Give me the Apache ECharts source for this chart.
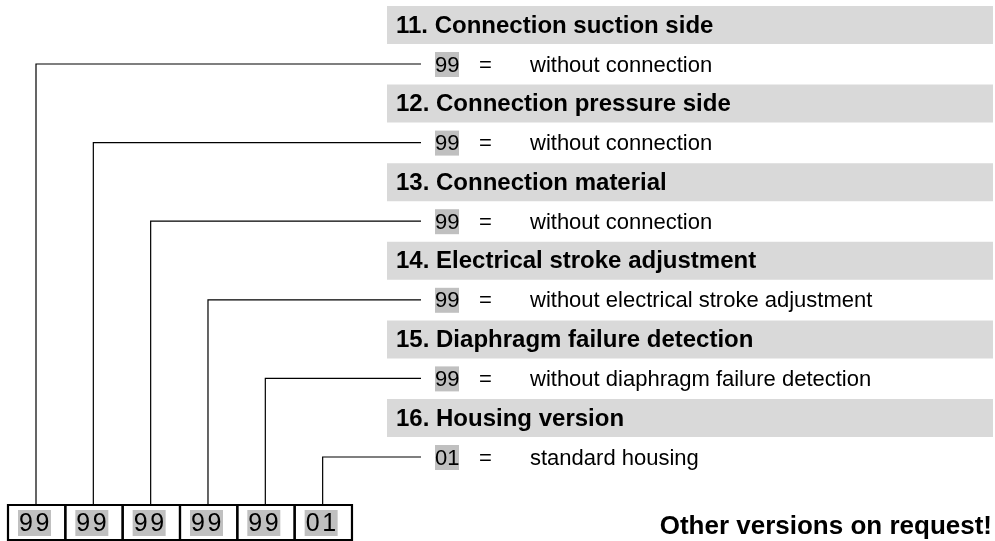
<!DOCTYPE html>
<html>
<head>
<meta charset="utf-8">
<script src="https://cdn.jsdelivr.net/npm/echarts@6/dist/echarts.min.js"></script>
<style>
  html, body { margin: 0; padding: 0; background: #fff; }
  #main { width: 995px; height: 541px; }
</style>
</head>
<body>
<div id="main"></div>
<script>
// order code sections, top to bottom (= boxes left to right)
const headings = [
    '11. Connection suction side',
    '12. Connection pressure side',
    '13. Connection material',
    '14. Electrical stroke adjustment',
    '15. Diaphragm failure detection',
    '16. Housing version'
]
const codes = ['99', '99', '99', '99', '99', '01']
const descriptions = [
    'without connection',
    'without connection',
    'without connection',
    'without electrical stroke adjustment',
    'without diaphragm failure detection',
    'standard housing'
]
const note = 'Other versions on request!'

// layout (pixel space of the hidden axes)
const ROW_PITCH = 78.6
const BAND_TOP = 6
const BAND_H = 38
const BAND_X0 = 387
const BAND_X1 = 993
const ROW_Y0 = 64
const LINE_END = 421
const BOX_X0 = 8
const BOX_W = 57.33
const BOX_TOP = 505
const BOX_BOTTOM = 540

const FONT = '"Liberation Sans", Arial, sans-serif'
const BAND_GRAY = '#d9d9d9'
const CODE_GRAY = '#c0c0c0'

function txt(text, pt, font, align) {
    return {
        type: 'text',
        style: {
            text: text, x: pt[0], y: pt[1], font: font, fill: '#000',
            align: align || 'left', verticalAlign: 'middle',
            textAlign: align || 'left', textVerticalAlign: 'middle'
        }
    }
}

function renderSection(params, api) {
    const i = api.value(0)
    const bandTop = BAND_TOP + i * ROW_PITCH
    const rowY = ROW_Y0 + i * ROW_PITCH
    const b0 = api.coord([BAND_X0, bandTop])
    const b1 = api.coord([BAND_X1, bandTop + BAND_H])
    const c0 = api.coord([435, rowY - 12])
    const c1 = api.coord([459, rowY + 13])
    const boxLeft = BOX_X0 + i * BOX_W
    const lx = boxLeft + 28
    const children = [
        { type: 'rect', shape: { x: b0[0], y: b0[1], width: b1[0] - b0[0], height: b1[1] - b0[1] }, style: { fill: BAND_GRAY } },
        txt(headings[i], api.coord([396, bandTop + 20]), 'bold 24px ' + FONT),
        {
            type: 'polyline',
            shape: { points: [api.coord([lx, BOX_TOP]), api.coord([lx, rowY]), api.coord([LINE_END, rowY])] },
            style: { stroke: '#000', lineWidth: 1.2, fill: null }
        },
        { type: 'rect', shape: { x: c0[0], y: c0[1], width: c1[0] - c0[0], height: c1[1] - c0[1] }, style: { fill: CODE_GRAY } },
        txt(codes[i], api.coord([435, rowY + 1.5]), '22px ' + FONT),
        txt('=', api.coord([479, rowY + 1.5]), '22px ' + FONT),
        txt(descriptions[i], api.coord([530, rowY + 1.5]), '22px ' + FONT)
    ]
    // the code box at the bottom
    const k0 = api.coord([boxLeft, BOX_TOP])
    const k1 = api.coord([boxLeft + BOX_W, BOX_BOTTOM])
    children.push({
        type: 'rect',
        shape: { x: k0[0], y: k0[1], width: k1[0] - k0[0], height: k1[1] - k0[1] },
        style: { fill: null, stroke: '#000', lineWidth: 2.2 }
    })
    const h0 = api.coord([boxLeft + 10, 510])
    const h1 = api.coord([boxLeft + 43, 536])
    children.push({ type: 'rect', shape: { x: h0[0], y: h0[1], width: h1[0] - h0[0], height: h1[1] - h0[1] }, style: { fill: CODE_GRAY } })
    codes[i].split('').forEach((ch, k) => {
        children.push(txt(ch, api.coord([boxLeft + 11 + k * 16.5, 524]), '25px ' + FONT))
    })
    return { type: 'group', children: children }
}

const chart = echarts.init(document.getElementById('main'))
const option = {
    animation: false,
    backgroundColor: '#fff',
    grid: { left: 0, right: 0, top: 0, bottom: 0 },
    xAxis: { type: 'value', min: 0, max: 995, show: false },
    yAxis: { type: 'value', min: 0, max: 541, inverse: true, show: false },
    series: [{
        type: 'custom',
        clip: false,
        silent: true,
        renderItem: renderSection,
        data: headings.map((h, i) => [i])
    }, {
        type: 'custom',
        clip: false,
        silent: true,
        renderItem: (params, api) => txt(note, api.coord([api.value(0), api.value(1)]), 'bold 26px ' + FONT, 'right'),
        data: [[992, 527]]
    }]
}
chart.setOption(option)
window.addEventListener('resize', () => {
    chart.resize()
})
</script>
</body>
</html>
